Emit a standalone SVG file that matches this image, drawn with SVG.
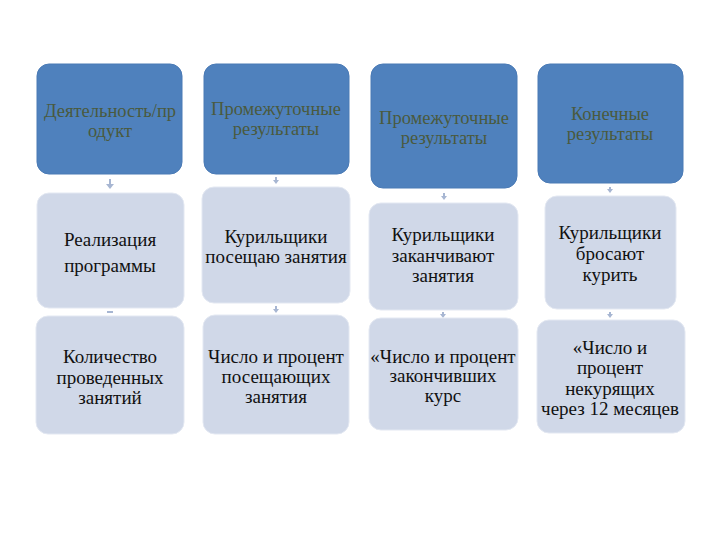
<svg xmlns="http://www.w3.org/2000/svg" width="720" height="540" viewBox="0 0 720 540">
<defs>
<style>
.hd{fill:#4f81bd;stroke:#4a7ab5;stroke-width:1}
.lt{fill:#d0d8e8;stroke:#e3e8f2;stroke-width:1}
text{font-family:'Liberation Serif','DejaVu Serif','Noto Serif',serif;text-anchor:middle}
.th{fill:#4a5a3e;font-size:18.5px}
.tl{fill:#111111;font-size:19px}
.cn{stroke:#a7b6d2;stroke-width:2;fill:none}
.ah{fill:#a7b6d2}
</style>
</defs>
<rect width="720" height="540" fill="#ffffff"/>
<g id="connectors">
<line class="cn" x1="110" y1="179" x2="110" y2="185"/><polygon class="ah" points="106,184 114,184 110,189"/>
<line class="cn" x1="107" y1="312" x2="113" y2="312"/>
<line class="cn" x1="276" y1="177" x2="276" y2="181"/><polygon class="ah" points="273,180 279,180 276,184"/>
<line class="cn" x1="276" y1="306" x2="276" y2="310"/><polygon class="ah" points="273,309 279,309 276,313"/>
<line class="cn" x1="444" y1="193" x2="444" y2="197"/><polygon class="ah" points="441,196 447,196 444,200"/>
<line class="cn" x1="443" y1="312" x2="443" y2="315"/><polygon class="ah" points="440,314 446,314 443,318"/>
<line class="cn" x1="610" y1="187" x2="610" y2="190"/><polygon class="ah" points="607,189 613,189 610,193"/>
<line class="cn" x1="610" y1="312" x2="610" y2="315"/><polygon class="ah" points="607,314 613,314 610,318"/>
</g>
<g id="n1"><rect class="hd" x="37" y="64" width="145" height="110" rx="12"/>
<text class="th" x="110" y="117">Деятельность/пр</text><text class="th" x="110" y="137">одукт</text></g>
<g id="n2"><rect class="hd" x="204" y="64" width="145" height="110" rx="12"/>
<text class="th" x="276" y="115">Промежуточные</text><text class="th" x="276" y="135">результаты</text></g>
<g id="n3"><rect class="hd" x="371" y="64" width="146" height="124" rx="12"/>
<text class="th" x="444" y="124">Промежуточные</text><text class="th" x="444" y="144">результаты</text></g>
<g id="n4"><rect class="hd" x="538" y="64" width="145" height="119" rx="12"/>
<text class="th" x="610" y="120">Конечные</text><text class="th" x="610" y="140">результаты</text></g>
<g id="n5"><rect class="lt" x="37" y="193" width="147" height="115" rx="12"/>
<text class="tl" x="110" y="246">Реализация</text><text class="tl" x="110" y="272">программы</text></g>
<g id="n6"><rect class="lt" x="202" y="187" width="148" height="116" rx="12"/>
<text class="tl" x="276" y="243">Курильщики</text><text class="tl" x="276" y="263">посещаю занятия</text></g>
<g id="n7"><rect class="lt" x="369" y="203" width="149" height="107" rx="12"/>
<text class="tl" x="443" y="241">Курильщики</text><text class="tl" x="443" y="262">заканчивают</text><text class="tl" x="443" y="282">занятия</text></g>
<g id="n8"><rect class="lt" x="545" y="196" width="131" height="113" rx="12"/>
<text class="tl" x="610" y="239">Курильщики</text><text class="tl" x="610" y="260">бросают</text><text class="tl" x="610" y="281">курить</text></g>
<g id="n9"><rect class="lt" x="36" y="316" width="148" height="118" rx="12"/>
<text class="tl" x="110" y="363">Количество</text><text class="tl" x="110" y="384">проведенных</text><text class="tl" x="110" y="404">занятий</text></g>
<g id="n10"><rect class="lt" x="203" y="315" width="146" height="119" rx="12"/>
<text class="tl" x="276" y="363">Число и процент</text><text class="tl" x="276" y="383">посещающих</text><text class="tl" x="276" y="403">занятия</text></g>
<g id="n11"><rect class="lt" x="369" y="318" width="149" height="112" rx="12"/>
<text class="tl" x="443" y="363">«Число и процент</text><text class="tl" x="443" y="382">закончивших</text><text class="tl" x="443" y="402">курс</text></g>
<g id="n12"><rect class="lt" x="537" y="320" width="148" height="113" rx="12"/>
<text class="tl" x="610" y="354">«Число и</text><text class="tl" x="610" y="374">процент</text><text class="tl" x="610" y="395">некурящих</text><text class="tl" x="610" y="415">через 12 месяцев</text></g>
</svg>
